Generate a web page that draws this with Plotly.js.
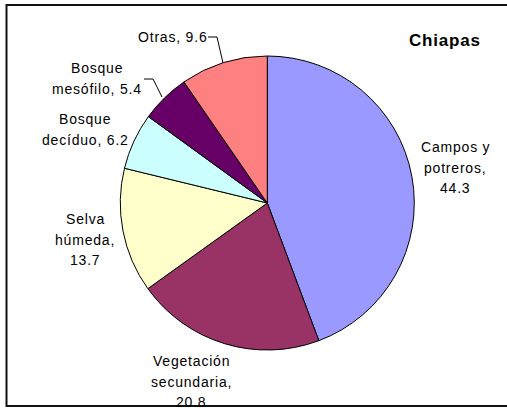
<!DOCTYPE html>
<html>
<head>
<meta charset="utf-8">
<script src="https://cdn.plot.ly/plotly-3.0.1.min.js"></script>
<style>
html,body{margin:0;padding:0;background:#fff;}
#chart{width:507px;height:409px;}
.annotation-text{letter-spacing:0.8px;}
</style>
</head>
<body>
<div id="chart"></div>
<script>
// Data
const categories = ["Campos y potreros", "Vegetación secundaria", "Selva húmeda", "Bosque decíduo", "Bosque mesófilo", "Otras"];
const values = [44.3, 20.8, 13.7, 6.2, 5.4, 9.6];
const colors = ["#9999FF", "#993366", "#FFFFCC", "#CCFFFF", "#660066", "#FF8080"];
const labelLines = [
  ["Campos y", "potreros,", "44.3"],
  ["Vegetación", "secundaria,", "20.8"],
  ["Selva", "húmeda,", "13.7"],
  ["Bosque", "decíduo, 6.2"],
  ["Bosque", "mesófilo, 5.4"],
  ["Otras, 9.6"]
];
const chartTitle = "Chiapas";

// Layout helpers (pixel positions -> paper)
const W = 507, H = 409;
const px = x => x / W;
const py = y => 1 - y / H;
const labelAnchors = [[455, 147], [191, 361], [85, 219], [85, 119], [97, 68], [172, 37]];
const linePitch = 20.5;

const annotations = [];
labelLines.forEach((lines, i) => {
  const [cx, cy] = labelAnchors[i];
  lines.forEach((t, j) => {
    annotations.push({
      x: px(cx), y: py(cy + j * linePitch), xref: "paper", yref: "paper",
      text: t, showarrow: false, xanchor: "center", yanchor: "middle",
      font: {family: "Liberation Sans, Arial, sans-serif", size: 14, color: "#000"}
    });
  });
});
annotations.push({
  x: px(445), y: py(40), xref: "paper", yref: "paper", text: "<b>" + chartTitle + "</b>",
  showarrow: false, xanchor: "center", yanchor: "middle",
  font: {family: "Liberation Sans, Arial, sans-serif", size: 17, color: "#000"}
});

const shapes = [
  {type: "rect", xref: "paper", yref: "paper", x0: px(6.5), x1: px(520), y0: py(406), y1: py(5),
   line: {color: "#111", width: 2}},
  {type: "path", xref: "paper", yref: "paper",
   path: `M ${px(208)} ${py(37)} L ${px(217)} ${py(37)} L ${px(223)} ${py(63)}`,
   line: {color: "#000", width: 1}},
  {type: "path", xref: "paper", yref: "paper",
   path: `M ${px(144)} ${py(79)} L ${px(153)} ${py(79)} L ${px(162)} ${py(97)}`,
   line: {color: "#000", width: 1}}
];

const trace = {
  type: "pie",
  labels: categories,
  values: values,
  sort: false,
  direction: "clockwise",
  rotation: 0,
  marker: {colors: colors, line: {color: "#000", width: 1}},
  textinfo: "none",
  hoverinfo: "label+value",
  domain: {x: [px(120.3), px(414.3)], y: [py(350), py(56)]},
  automargin: false
};

Plotly.newPlot("chart", [trace], {
  width: W, height: H,
  margin: {l: 0, r: 0, t: 0, b: 0},
  showlegend: false,
  paper_bgcolor: "#fff",
  annotations: annotations,
  shapes: shapes
}, {staticPlot: true});
</script>
</body>
</html>
